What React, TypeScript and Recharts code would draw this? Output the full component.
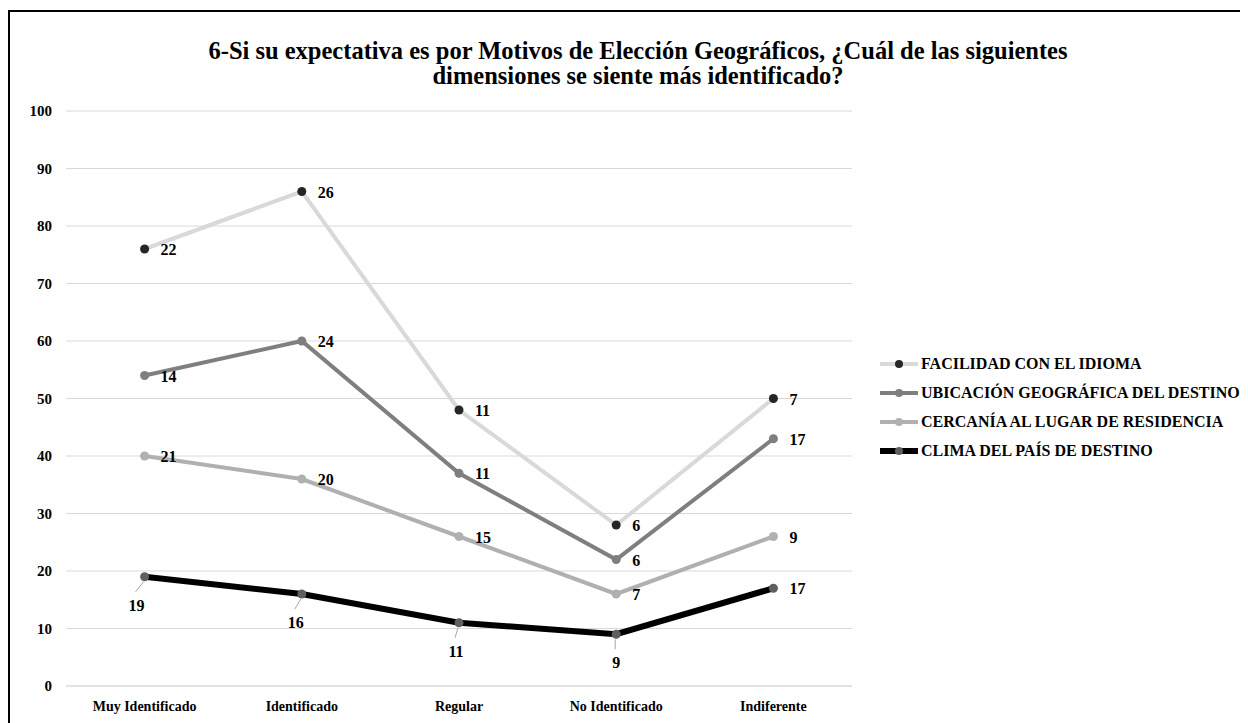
import { CartesianGrid, Line, LineChart, XAxis, YAxis } from "recharts";

const categories = ["Muy Identificado", "Identificado", "Regular", "No Identificado", "Indiferente"];
const facilidad = [22, 26, 11, 6, 7];
const ubicacion = [14, 24, 11, 6, 17];
const cercania = [21, 20, 15, 7, 9];
const clima = [19, 16, 11, 9, 17];
const yTicks = [0, 10, 20, 30, 40, 50, 60, 70, 80, 90, 100];

const FONT = '"Liberation Serif", "Times New Roman", serif';

type Serie = {
  key: string;
  name: string;
  values: number[];
  line: string;
  dot: string;
  width: number;
  below?: boolean;
};

// stacked bottom to top, like the original sheet
const stackOrder: Serie[] = [
  { key: "clima", name: "CLIMA DEL PAÍS DE DESTINO", values: clima, line: "#000000", dot: "#5f5f5f", width: 6, below: true },
  { key: "cercania", name: "CERCANÍA AL LUGAR DE RESIDENCIA", values: cercania, line: "#b0b0b0", dot: "#b0b0b0", width: 4 },
  { key: "ubicacion", name: "UBICACIÓN GEOGRÁFICA DEL DESTINO", values: ubicacion, line: "#7f7f7f", dot: "#7f7f7f", width: 4 },
  { key: "facilidad", name: "FACILIDAD CON EL IDIOMA", values: facilidad, line: "#d9d9d9", dot: "#262626", width: 4 },
];
const legendOrder = [...stackOrder].reverse();

const data = categories.map((category, i) => {
  const row: Record<string, string | number> = { category };
  let sum = 0;
  for (const s of stackOrder) {
    sum += s.values[i];
    row[s.key] = sum;
  }
  return row;
});

const belowShift = [-8, -6, -3, 0];

function makeLabel(s: Serie) {
  return (props: any) => {
    const { x, y, index } = props;
    const v = s.values[index];
    const last = index === categories.length - 1;
    if (s.below && !last) {
      const dx = belowShift[index] ?? 0;
      return (
        <g>
          <line x1={x - 1} y1={y + 5} x2={x + dx - 1} y2={y + 15} stroke="#a6a6a6" strokeWidth={1} />
          <text x={x + dx} y={y + 34} textAnchor="middle" fontFamily={FONT} fontWeight="bold" fontSize={16} fill="#000">
            {v}
          </text>
        </g>
      );
    }
    return (
      <text x={x + 16} y={y + 6} textAnchor="start" fontFamily={FONT} fontWeight="bold" fontSize={16} fill="#000">
        {v}
      </text>
    );
  };
}

export default function App() {
  return (
    <div
      style={{
        position: "relative",
        width: 1240,
        height: 713,
        marginTop: 2,
        borderTop: "2px solid #000",
        borderLeft: "2px solid #000",
        background: "#fff",
        fontFamily: FONT,
      }}
    >
      <div
        style={{
          position: "absolute",
          left: 0,
          top: 26,
          width: 1256,
          textAlign: "center",
          fontWeight: "bold",
          fontSize: 24.5,
          lineHeight: "25px",
          color: "#000",
        }}
      >
        6-Si su expectativa es por Motivos de Elección Geográficos, ¿Cuál de las siguientes
        <br />
        dimensiones se siente más identificado?
      </div>

      <LineChart
        width={1238}
        height={711}
        data={data}
        margin={{ top: 99, right: 396, bottom: 7, left: 0 }}
        style={{ position: "absolute", left: 0, top: 0 }}
      >
        <CartesianGrid stroke="#d9d9d9" vertical={false} />
        <XAxis
          dataKey="category"
          height={30}
          padding={{ left: 78.6, right: 78.6 }}
          axisLine={{ stroke: "#d9d9d9" }}
          tickLine={false}
          tickMargin={9}
          interval={0}
          tick={{ fontSize: 14, fontWeight: "bold", fill: "#000", fontFamily: FONT }}
        />
        <YAxis
          width={56}
          domain={[0, 100]}
          ticks={yTicks}
          axisLine={false}
          tickLine={false}
          tickMargin={8}
          tick={{ fontSize: 15, fontWeight: "bold", fill: "#000", fontFamily: FONT }}
        />
        {legendOrder.map((s) => (
          <Line
            key={s.key}
            dataKey={s.key}
            name={s.name}
            type="linear"
            stroke={s.line}
            strokeWidth={s.width}
            dot={{ r: 4.5, fill: s.dot, stroke: s.dot, strokeWidth: 0 }}
            activeDot={false}
            label={makeLabel(s)}
            isAnimationActive={false}
          />
        ))}
      </LineChart>

      <div style={{ position: "absolute", left: 870, top: 337 }}>
        {legendOrder.map((s) => (
          <div key={s.key} style={{ display: "flex", alignItems: "center", height: 29 }}>
            <svg width={40} height={14} style={{ marginRight: 1 }}>
              <line x1={0} y1={7} x2={38} y2={7} stroke={s.line} strokeWidth={s.width} />
              <circle cx={19} cy={7} r={4} fill={s.dot} />
            </svg>
            <span style={{ fontSize: 16, fontWeight: "bold", color: "#000", whiteSpace: "nowrap" }}>{s.name}</span>
          </div>
        ))}
      </div>
    </div>
  );
}
